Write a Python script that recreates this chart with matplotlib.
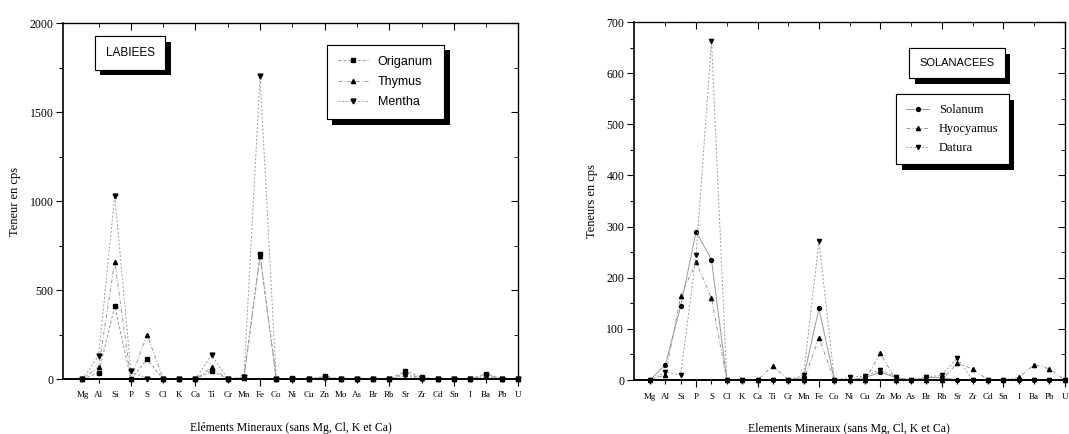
import numpy as np
import matplotlib
matplotlib.use("Agg")
import matplotlib.pyplot as plt
from matplotlib import patheffects
from matplotlib.ticker import MultipleLocator, FixedLocator
from matplotlib.transforms import blended_transform_factory

elements = ['Mg', 'Al', 'Si', 'P', 'S', 'Cl', 'K', 'Ca', 'Ti', 'Cr', 'Mn', 'Fe', 'Co', 'Ni',
            'Cu', 'Zn', 'Mo', 'As', 'Br', 'Rb', 'Sr', 'Zr', 'Cd', 'Sn', 'I', 'Ba', 'Pb', 'U']

# LABIEES
origanum = [0, 35, 410, 0, 110, 0, 0, 0, 45, 0, 10, 700, 0, 5, 0, 15, 0, 0, 0, 0, 45, 10, 0, 0, 0, 30, 0, 0]
thymus = [0, 65, 660, 0, 250, 0, 0, 0, 65, 0, 5, 690, 0, 0, 0, 10, 0, 0, 0, 0, 30, 5, 0, 0, 0, 20, 0, 0]
mentha = [0, 130, 1030, 45, 0, 0, 0, 0, 135, 0, 10, 1700, 0, 0, 0, 5, 0, 0, 0, 0, 20, 0, 0, 0, 0, 15, 0, 0]

# SOLANACEES
solanum = [0, 30, 145, 290, 235, 0, 0, 0, 0, 0, 5, 140, 0, 0, 5, 15, 5, 0, 5, 5, 0, 0, 0, 0, 0, 0, 0, 0]
hyocyamus = [0, 10, 165, 230, 160, 0, 0, 0, 28, 0, 0, 82, 0, 0, 0, 52, 0, 0, 0, 0, 33, 22, 0, 0, 5, 30, 22, 0]
datura = [0, 15, 10, 245, 662, 0, 0, 0, 0, 0, 10, 272, 0, 5, 8, 20, 5, 0, 5, 10, 43, 0, 0, 0, 0, 0, 0, 0]

serif = 'Liberation Serif'
sans = 'Liberation Sans'
shadow = [patheffects.withSimplePatchShadow(offset=(4, -4), shadow_rgbFace='k', alpha=1.0),
          patheffects.Normal()]
line_col = '0.6'

fig = plt.figure(figsize=(10.69, 4.34), dpi=100)
ax1 = fig.add_axes([0.059, 0.1267, 0.426, 0.8203])
ax2 = fig.add_axes([0.593, 0.1244, 0.403, 0.8249])

x = np.arange(len(elements))


def style_axes(ax, ymax, ymaj, ymin_step, xleft):
    ax.set_xlim(xleft, 27)
    ax.set_ylim(0, ymax)
    for s in ax.spines.values():
        s.set_linewidth(0.9)
    ax.spines['bottom'].set_linewidth(1.4)
    ax.spines['left'].set_linewidth(1.2)
    ax.xaxis.set_major_locator(FixedLocator(np.arange(3, 28, 4)))
    ax.xaxis.set_minor_locator(FixedLocator(np.arange(1, 28, 2)))
    ax.yaxis.set_major_locator(MultipleLocator(ymaj))
    ax.yaxis.set_minor_locator(MultipleLocator(ymin_step))
    ax.tick_params(axis='x', which='both', direction='out', labelbottom=False)
    ax.tick_params(which='major', length=5, width=0.8)
    ax.tick_params(which='minor', length=3, width=0.8)
    ax.tick_params(axis='y', labelsize=8.5, pad=2)
    for lab in ax.get_yticklabels():
        lab.set_fontfamily(serif)
    top = ax.secondary_xaxis('top')
    top.xaxis.set_major_locator(FixedLocator(np.arange(3, 28, 4)))
    top.xaxis.set_minor_locator(FixedLocator(np.arange(1, 28, 2)))
    top.tick_params(which='both', direction='in', labeltop=False)
    top.tick_params(which='major', length=5)
    top.tick_params(which='minor', length=3)
    right = ax.secondary_yaxis('right')
    right.yaxis.set_major_locator(MultipleLocator(ymaj))
    right.yaxis.set_minor_locator(MultipleLocator(ymin_step))
    right.tick_params(which='both', direction='in', labelright=False)
    right.tick_params(which='major', length=5)
    right.tick_params(which='minor', length=3)
    trans = blended_transform_factory(ax.transData, ax.transAxes)
    for i, lab in enumerate(elements):
        ax.text(i, -0.035, lab, transform=trans, ha='center', va='top',
                fontsize=6.5, family=serif)


# left panel
style_axes(ax1, 2000, 500, 250, -1.2)
ax1.plot(x, origanum, color=line_col, ls=(0, (3, 2)), lw=0.7, marker='s', ms=3,
         mfc='k', mec='k', label='Origanum', clip_on=False)
ax1.plot(x, thymus, color=line_col, ls=(0, (4, 2, 1, 2)), lw=0.7, marker='^', ms=3,
         mfc='k', mec='k', label='Thymus', clip_on=False)
ax1.plot(x, mentha, color=line_col, ls=(0, (2, 2)), lw=0.7, marker='v', ms=3.5,
         mfc='k', mec='k', label='Mentha', clip_on=False)
ax1.set_ylabel('Teneur en cps', family=serif, fontsize=9, labelpad=6)
ax1.set_xlabel('Eléments Mineraux (sans Mg, Cl, K et Ca)', family=serif, fontsize=8.5, labelpad=26)
t1 = ax1.text(0.147, 0.916, 'LABIEES', transform=ax1.transAxes, ha='center', va='center',
              fontsize=8.5, family=sans,
              bbox=dict(boxstyle='square,pad=0.9', fc='white', ec='k', lw=0.8))
t1.get_bbox_patch().set_path_effects(shadow)
leg1 = ax1.legend(loc='upper left', bbox_to_anchor=(0.565, 0.957), prop={'family': sans, 'size': 9},
                  fancybox=False, edgecolor='k', framealpha=1, handlelength=2.4,
                  borderpad=0.9, labelspacing=0.65)
leg1.get_frame().set_linewidth(0.8)
leg1.get_frame().set_path_effects(shadow)

# right panel
style_axes(ax2, 700, 100, 50, -1.05)
ax2.xaxis.set_minor_locator(FixedLocator(np.arange(0, 28, 1)))
ax2.plot(x, solanum, color=line_col, ls='-', lw=0.7, marker='o', ms=2.8,
         mfc='k', mec='k', label='Solanum', clip_on=False)
ax2.plot(x, hyocyamus, color=line_col, ls=(0, (4, 2, 1, 2)), lw=0.7, marker='^', ms=3,
         mfc='k', mec='k', label='Hyocyamus', clip_on=False)
ax2.plot(x, datura, color=line_col, ls=(0, (2, 2)), lw=0.7, marker='v', ms=3,
         mfc='k', mec='k', label='Datura', clip_on=False)
ax2.set_ylabel('Teneurs en cps', family=serif, fontsize=9, labelpad=6)
ax2.set_xlabel('Elements Mineraux (sans Mg, Cl, K et Ca)', family=serif, fontsize=8.5, labelpad=26)
t2 = ax2.text(0.75, 0.885, 'SOLANACEES', transform=ax2.transAxes, ha='center', va='center',
              fontsize=8, family=sans,
              bbox=dict(boxstyle='square,pad=0.9', fc='white', ec='k', lw=0.8))
t2.get_bbox_patch().set_path_effects(shadow)
leg2 = ax2.legend(loc='upper left', bbox_to_anchor=(0.595, 0.815), prop={'family': serif, 'size': 9},
                  fancybox=False, edgecolor='k', framealpha=1, handlelength=1.8,
                  borderpad=0.8, labelspacing=0.55)
leg2.get_frame().set_linewidth(0.8)
leg2.get_frame().set_path_effects(shadow)

fig.savefig('out.png', dpi=100)
